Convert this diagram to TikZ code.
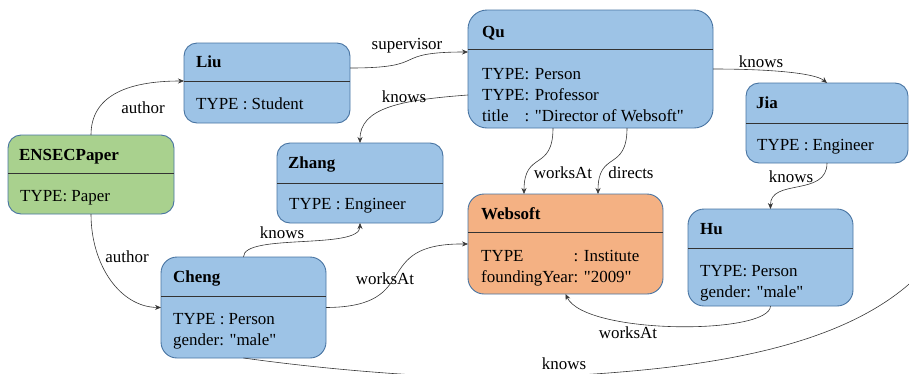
\documentclass[tikz,border=0pt]{standalone}
\usepackage{fontspec}
\setmainfont{Liberation Serif}[Ligatures=TeXOff]
\usetikzlibrary{arrows.meta,calc}
\definecolor{bluefill}{RGB}{157,195,230}
\definecolor{greenfill}{RGB}{169,209,142}
\definecolor{orangefill}{RGB}{244,177,131}
\definecolor{boxline}{RGB}{72,116,162}
\definecolor{edgec}{RGB}{55,55,55}
\begin{document}
\begin{tikzpicture}[x=1bp,y=1bp,
  box/.style={draw=boxline, line width=0.9bp, anchor=north west, inner sep=0pt, outer sep=0pt},
  sepline/.style={draw=black!80, line width=0.8bp},
  ttl/.style={font=\fontsize{17}{21.5}\selectfont\bfseries, anchor=base west, inner sep=0pt},
  attr/.style={font=\fontsize{17}{21.5}\selectfont, anchor=base west, inner sep=0pt},
  lbl/.style={font=\fontsize{17}{21.5}\selectfont, anchor=base, inner sep=0pt},
  edge/.style={draw=edgec, line width=0.6bp, -{Stealth[length=6bp,width=5bp]}},
  plainedge/.style={draw=edgec, line width=0.6bp}]
\useasboundingbox (0,0) rectangle (909,-373);
\clip (0,0) rectangle (909,-373);

% boxes
\node[box, fill=bluefill, minimum width=166bp, minimum height=80bp, rounded corners=13bp] (liu) at (184,-43) {};
\node[box, fill=greenfill, minimum width=166bp, minimum height=79bp, rounded corners=13bp] (paper) at (8,-135) {};
\node[box, fill=bluefill, minimum width=166bp, minimum height=80bp, rounded corners=13bp] (zhang) at (277,-143) {};
\node[box, fill=bluefill, minimum width=245bp, minimum height=118bp, rounded corners=19bp] (qu) at (468,-10) {};
\node[box, fill=bluefill, minimum width=162bp, minimum height=80bp, rounded corners=13bp] (jia) at (746,-83) {};
\node[box, fill=orangefill, minimum width=195bp, minimum height=100bp, rounded corners=16bp] (websoft) at (468,-194) {};
\node[box, fill=bluefill, minimum width=165bp, minimum height=97bp, rounded corners=16bp] (hu) at (688,-209) {};
\node[box, fill=bluefill, minimum width=165bp, minimum height=101bp, rounded corners=16bp] (cheng) at (161,-257) {};

% separators
\draw[sepline] ($(liu.north west)+(0,-38)$) -- ($(liu.north east)+(0,-38)$);
\draw[sepline] ($(paper.north west)+(0,-38)$) -- ($(paper.north east)+(0,-38)$);
\draw[sepline] ($(zhang.north west)+(0,-40)$) -- ($(zhang.north east)+(0,-40)$);
\draw[sepline] ($(qu.north west)+(0,-39)$) -- ($(qu.north east)+(0,-39)$);
\draw[sepline] ($(jia.north west)+(0,-40)$) -- ($(jia.north east)+(0,-40)$);
\draw[sepline] ($(websoft.north west)+(0,-38)$) -- ($(websoft.north east)+(0,-38)$);
\draw[sepline] ($(hu.north west)+(0,-39)$) -- ($(hu.north east)+(0,-39)$);
\draw[sepline] ($(cheng.north west)+(0,-39)$) -- ($(cheng.north east)+(0,-39)$);

% texts
\node[ttl] (liuT) at (196,-67) {Liu};
\node[attr] (liuA) at (196,-109) {TYPE : Student};
\node[ttl] (paperT) at (19,-160) {ENSECPaper};
\node[attr] (paperA) at (20,-201) {TYPE: Paper};
\node[ttl] (zhangT) at (288,-168) {Zhang};
\node[attr] (zhangA) at (289,-209) {TYPE : Engineer};
\node[ttl] (quT) at (482,-37) {Qu};
\node[attr] (quA) at (482,-79) {\begin{tabular}[t]{@{}l@{}l@{}}TYPE&: Person\\TYPE&: Professor\\title&: "Director of Websoft"\end{tabular}};
\node[ttl] (jiaT) at (756,-108) {Jia};
\node[attr] (jiaA) at (757,-150) {TYPE : Engineer};
\node[ttl] (websoftT) at (481,-219) {Websoft};
\node[attr] (websoftA) at (481,-261) {\begin{tabular}[t]{@{}l@{}l@{}}TYPE&: Institute\\foundingYear&: "2009"\end{tabular}};
\node[ttl] (huT) at (700,-234) {Hu};
\node[attr] (huA) at (700,-276) {\begin{tabular}[t]{@{}l@{}}TYPE: Person\\gender: "male"\end{tabular}};
\node[ttl] (chengT) at (173,-282) {Cheng};
\node[attr] (chengA) at (173,-324) {\begin{tabular}[t]{@{}l@{}}TYPE : Person\\gender: "male"\end{tabular}};

% connectors
\draw[edge] (paper.north) .. controls (91,-97) and (125,-81) .. ([yshift=2bp]liu.west);
\draw[edge] (paper.south) .. controls (91,-265) and (120,-307) .. (cheng.west);
\draw[edge] ([yshift=15bp]liu.east) .. controls (432,-68) and (388,-52) .. ([yshift=17bp]qu.west);
\draw[edge] ([yshift=-26bp]qu.west) .. controls (400,-100) and (360,-108) .. (zhang.north);
\draw[edge] (qu.east) .. controls (770,-69) and (815,-73) .. (jia.north);
\draw[edge] ([xshift=-37.5bp]qu.south) .. controls (553,-172) and (524,-150) .. ([xshift=-41.5bp]websoft.north);
\draw[edge] ([xshift=36.5bp]qu.south) .. controls (627,-172) and (598,-150) .. ([xshift=32.5bp]websoft.north);
\draw[edge] (jia.south) .. controls (827,-197) and (770,-178) .. (hu.north);
\draw[edge] (cheng.north) .. controls (243,-233) and (360,-250) .. (zhang.south);
\draw[edge] (cheng.east) .. controls (425,-307) and (368,-243) .. (websoft.west);
\draw[edge] (hu.south) .. controls (770,-335) and (585,-335) .. (websoft.south);
\coordinate (low) at (510,-378);
\coordinate (offr) at (940,-250);
\draw[plainedge] (cheng.south) .. controls (330,-370) and (430,-378) .. (low)
   .. controls (700,-372) and (870,-350) .. (offr);

% labels
\node[lbl] (l1) at (143,-113) {author};
\node[lbl] (l2) at (127,-262) {author};
\node[lbl] (l3) at (407,-49) {supervisor};
\node[lbl] (l4) at (404,-102) {knows};
\node[lbl] (l5) at (761,-67) {knows};
\node[lbl] (l6) at (563,-178) {worksAt};
\node[lbl] (l7) at (631,-178) {directs};
\node[lbl] (l8) at (791,-182) {knows};
\node[lbl] (l9) at (282,-238) {knows};
\node[lbl] (l10) at (385,-284) {worksAt};
\node[lbl] (l11) at (628,-338) {worksAt};
\node[lbl] (l12) at (564,-369) {knows};
\end{tikzpicture}
\end{document}
